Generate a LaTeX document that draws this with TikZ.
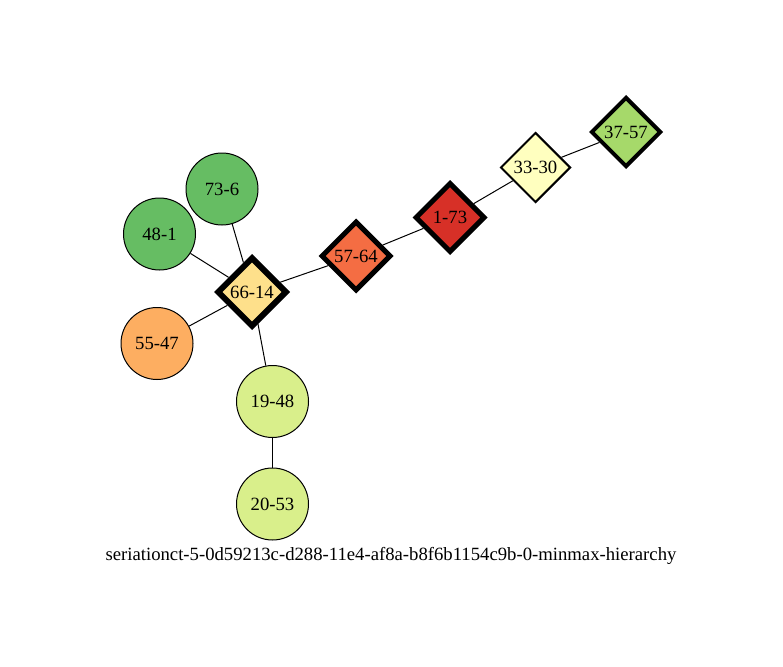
\documentclass[tikz,border=0pt]{standalone}
\usepackage{fontspec}
\setmainfont{Liberation Serif}
\usetikzlibrary{shapes.geometric}
\definecolor{cgreen}{HTML}{66BD63}
\definecolor{corange}{HTML}{FDAE61}
\definecolor{cyellow}{HTML}{FEE08B}
\definecolor{cred1}{HTML}{F46D43}
\definecolor{cred2}{HTML}{D73027}
\definecolor{cpale}{HTML}{FFFFBF}
\definecolor{clgreen}{HTML}{A6D96A}
\definecolor{cygreen}{HTML}{D9EF8B}
\tikzset{
  lbl/.style={font=\fontsize{18.7}{20}\selectfont},
  circ/.style={circle, draw=black, line width=1pt, minimum size=72pt, inner sep=0pt, lbl},
  dia/.style={diamond, draw=black, minimum width=70pt, minimum height=70pt, aspect=1, inner sep=0pt, lbl},
  edge/.style={draw=black, line width=1pt}
}
\begin{document}
\begin{tikzpicture}[x=1pt,y=-1pt]
\useasboundingbox (0,0) rectangle (783,666);
\node[circ, fill=cgreen] (n736) at (222,189) {73-6};
\node[circ, fill=cgreen] (n481) at (159.5,234) {48-1};
\node[circ, fill=corange] (n5547) at (157,343.5) {55-47};
\node[circ, fill=cygreen] (n1948) at (272.5,401.5) {19-48};
\node[circ, fill=cygreen] (n2053) at (272.5,504) {20-53};
\node[dia, fill=cyellow, line width=6pt] (n6614) at (252,292) {66-14};
\node[dia, fill=cred1, line width=5pt] (n5764) at (356,256) {57-64};
\node[dia, fill=cred2, line width=5pt] (n173) at (450,217.5) {1-73};
\node[dia, fill=cpale, line width=2pt] (n3330) at (535.5,167.5) {33-30};
\node[dia, fill=clgreen, line width=4pt] (n3757) at (626,132) {37-57};
\draw[edge] (n736) -- (n6614);
\draw[edge] (n481) -- (n6614);
\draw[edge] (n5547) -- (n6614);
\draw[edge] (n6614) -- (n1948);
\draw[edge] (n1948) -- (n2053);
\draw[edge] (n6614) -- (n5764);
\draw[edge] (n5764) -- (n173);
\draw[edge] (n173) -- (n3330);
\draw[edge] (n3330) -- (n3757);
\node[lbl, anchor=base] (cap) at (391,560) {seriationct-5-0d59213c-d288-11e4-af8a-b8f6b1154c9b-0-minmax-hierarchy};
\end{tikzpicture}
\end{document}
